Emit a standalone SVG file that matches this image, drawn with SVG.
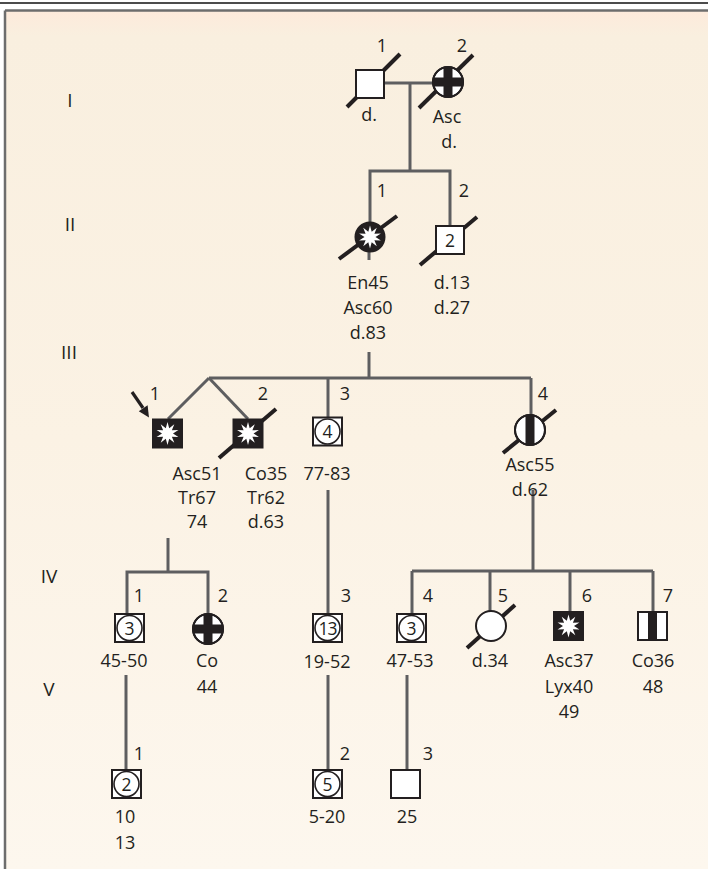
<svg xmlns="http://www.w3.org/2000/svg" xmlns:xlink="http://www.w3.org/1999/xlink" width="708" height="869" viewBox="0 0 708 869">
<defs>
<linearGradient id="bg" x1="0" y1="0" x2="0" y2="1">
<stop offset="0" stop-color="#fdeadb"/>
<stop offset="0.03" stop-color="#f9efdf"/>
<stop offset="0.5" stop-color="#fbf2e4"/>
<stop offset="1" stop-color="#fdf7ee"/>
</linearGradient>
<clipPath id="cc"><circle cx="0" cy="0" r="15"/></clipPath>
<polygon id="star" fill="#fff" points="0,-11.5 1.7,-5.2 6.8,-9.3 4.4,-3.2 10.9,-3.5 5.5,0 10.9,3.5 4.4,3.2 6.8,9.3 1.7,5.2 0,11.5 -1.7,5.2 -6.8,9.3 -4.4,3.2 -10.9,3.5 -5.5,0 -10.9,-3.5 -4.4,-3.2 -6.8,-9.3 -1.7,-5.2"/>
</defs>
<style>
text{font-family:"Open Sans","Liberation Sans",sans-serif;font-size:18px;fill:#231f20;text-anchor:middle}
.gen{font-size:19px}
.con{stroke:#5e5e60;stroke-width:3;fill:none}
.sym{stroke:#231f20;stroke-width:2;fill:#fff}
.blk{fill:#231f20;stroke:#231f20;stroke-width:2}
.in{stroke:#231f20;stroke-width:1.6;fill:#fff}
.dec{stroke:#231f20;stroke-width:4}
.num{font-size:17.5px}
</style>
<rect x="0" y="0" width="708" height="869" fill="#fff"/>
<rect x="5" y="10.5" width="703" height="859" fill="url(#bg)"/>
<line x1="5" y1="10.5" x2="708" y2="10.5" stroke="#6d6d6d" stroke-width="2.5"/>
<line x1="5" y1="10.5" x2="5" y2="869" stroke="#6d6d6d" stroke-width="2.5"/>
<line x1="0" y1="3" x2="708" y2="3" stroke="#111" stroke-width="1.6"/>

<g id="generations">
<text class="gen" x="70" y="107">I</text>
<text class="gen" x="70" y="231">II</text>
<text class="gen" x="69" y="359">III</text>
<text class="gen" x="49" y="583">IV</text>
<text class="gen" x="49" y="696">V</text>
</g>

<g id="connectors" class="con">
<line x1="384" y1="83" x2="433" y2="83"/>
<line x1="410" y1="83" x2="410" y2="171"/>
<polyline points="370,223 370,171 450,171 450,226"/>
<line x1="369" y1="251" x2="369" y2="260"/>
<line x1="369" y1="352" x2="369" y2="378"/>
<line x1="209" y1="378" x2="531" y2="378"/>
<line x1="209" y1="378" x2="168" y2="419"/>
<line x1="209" y1="378" x2="248" y2="419"/>
<line x1="328" y1="378" x2="328" y2="417"/>
<line x1="531" y1="378" x2="531" y2="415"/>
<line x1="168" y1="538" x2="168" y2="572"/>
<polyline points="127,614 127,572 208,572 208,614"/>
<line x1="328" y1="490" x2="328" y2="614"/>
<line x1="533" y1="490" x2="533" y2="571"/>
<line x1="412" y1="571" x2="653" y2="571"/>
<line x1="412" y1="571" x2="412" y2="614"/>
<line x1="490" y1="571" x2="490" y2="611"/>
<line x1="570" y1="571" x2="570" y2="612"/>
<line x1="653" y1="571" x2="653" y2="612"/>
<line x1="126" y1="675" x2="126" y2="770"/>
<line x1="328" y1="675" x2="328" y2="770"/>
<line x1="407" y1="675" x2="407" y2="770"/>
</g>

<g id="I-1">
<line class="dec" x1="347" y1="107" x2="400" y2="54"/>
<rect class="sym" x="356" y="70" width="28" height="28"/>
<text x="382" y="52">1</text>
<text x="369" y="121">d.</text>
</g>
<g id="I-2">
<line class="dec" x1="419" y1="108" x2="473" y2="55"/>
<g transform="translate(448,82)">
<circle class="sym" r="15"/>
<g clip-path="url(#cc)" fill="#231f20"><rect x="-4.5" y="-15" width="9" height="30"/><rect x="-15" y="-4.5" width="30" height="9"/></g>
<circle r="15" fill="none" stroke="#231f20" stroke-width="2"/>
</g>
<text x="462" y="52">2</text>
<text x="447" y="123">Asc</text>
<text x="449" y="148">d.</text>
</g>

<g id="II-1">
<line class="dec" x1="339" y1="259" x2="397" y2="216"/>
<circle class="blk" cx="370" cy="237" r="14.5"/>
<use xlink:href="#star" href="#star" transform="translate(370,237)"/>
<text x="382" y="197">1</text>
<text x="368" y="289">En45</text>
<text x="368" y="314">Asc60</text>
<text x="368" y="339">d.83</text>
</g>
<g id="II-2">
<line class="dec" x1="420" y1="265" x2="477" y2="217"/>
<rect class="sym" x="436" y="226" width="28" height="28"/>
<text x="450" y="247" class="num">2</text>
<text x="464" y="197">2</text>
<text x="452" y="289">d.13</text>
<text x="452" y="314">d.27</text>
</g>

<g id="III-1">
<rect class="blk" x="153" y="419.5" width="29" height="28"/>
<use xlink:href="#star" href="#star" transform="translate(167.5,433.5)"/>
<line x1="132" y1="392" x2="143" y2="408" stroke="#231f20" stroke-width="3.2"/>
<polygon points="149,417.5 138.8,411.2 147.6,405.2" fill="#231f20"/>
<text x="155" y="400">1</text>
<text x="197" y="480">Asc51</text>
<text x="197" y="504">Tr67</text>
<text x="197" y="528">74</text>
</g>
<g id="III-2">
<line class="dec" x1="219" y1="458" x2="276" y2="409"/>
<rect class="blk" x="233.5" y="419.5" width="29" height="28"/>
<use xlink:href="#star" href="#star" transform="translate(248,433.5)"/>
<text x="263" y="400">2</text>
<text x="266" y="480">Co35</text>
<text x="266" y="504">Tr62</text>
<text x="266" y="528">d.63</text>
</g>
<g id="III-3">
<rect class="sym" x="313" y="417.5" width="29" height="28"/>
<circle class="in" cx="327.5" cy="431.5" r="12.5"/>
<text x="327.5" y="438" class="num">4</text>
<text x="345" y="400">3</text>
<text x="327" y="480">77-83</text>
</g>
<g id="III-4">
<line class="dec" x1="503" y1="453" x2="556" y2="410"/>
<g transform="translate(530,430)">
<circle class="sym" r="15"/>
<rect x="-4.5" y="-15" width="9" height="30" fill="#231f20" clip-path="url(#cc)"/>
<circle r="15" fill="none" stroke="#231f20" stroke-width="2"/>
</g>
<text x="543" y="400">4</text>
<text x="530" y="471">Asc55</text>
<text x="530" y="496">d.62</text>
</g>

<g id="IV-1">
<rect class="sym" x="115" y="614" width="29" height="28"/>
<circle class="in" cx="129.5" cy="628" r="12.5"/>
<text x="129.5" y="634.5" class="num">3</text>
<text x="139" y="602">1</text>
<text x="124" y="667">45-50</text>
</g>
<g id="IV-2">
<g transform="translate(208,629)">
<circle class="sym" r="15"/>
<g clip-path="url(#cc)" fill="#231f20"><rect x="-4.5" y="-15" width="9" height="30"/><rect x="-15" y="-4.5" width="30" height="9"/></g>
<circle r="15" fill="none" stroke="#231f20" stroke-width="2"/>
</g>
<text x="223" y="602">2</text>
<text x="207" y="667">Co</text>
<text x="207" y="693">44</text>
</g>
<g id="IV-3">
<rect class="sym" x="313" y="614" width="29" height="28"/>
<circle class="in" cx="327.5" cy="628" r="12.5"/>
<text x="327.5" y="634.5" class="num" style="letter-spacing:-1px">13</text>
<text x="346" y="602">3</text>
<text x="327" y="668">19-52</text>
</g>
<g id="IV-4">
<rect class="sym" x="397" y="614" width="29" height="28"/>
<circle class="in" cx="411.5" cy="628" r="12.5"/>
<text x="411.5" y="634.5" class="num">3</text>
<text x="428" y="602">4</text>
<text x="410" y="667">47-53</text>
</g>
<g id="IV-5">
<line class="dec" x1="467" y1="648" x2="515" y2="605"/>
<circle class="sym" cx="491" cy="626" r="15"/>
<text x="503" y="602">5</text>
<text x="490" y="667">d.34</text>
</g>
<g id="IV-6">
<rect class="blk" x="554" y="612" width="29" height="28"/>
<use xlink:href="#star" href="#star" transform="translate(568.5,626)"/>
<text x="587" y="602">6</text>
<text x="569" y="667">Asc37</text>
<text x="569" y="693">Lyx40</text>
<text x="569" y="718">49</text>
</g>
<g id="IV-7">
<rect class="sym" x="638" y="612" width="29" height="28"/>
<rect x="648" y="612" width="9" height="28" fill="#231f20"/>
<text x="668" y="602">7</text>
<text x="653" y="667">Co36</text>
<text x="653" y="693">48</text>
</g>

<g id="V-1">
<rect class="sym" x="112" y="770" width="29" height="28"/>
<circle class="in" cx="126.5" cy="784" r="12.5"/>
<text x="126.5" y="790.5" class="num">2</text>
<text x="139" y="760">1</text>
<text x="125" y="823">10</text>
<text x="125" y="849">13</text>
</g>
<g id="V-2">
<rect class="sym" x="313" y="770" width="29" height="28"/>
<circle class="in" cx="327.5" cy="784" r="12.5"/>
<text x="327.5" y="790.5" class="num">5</text>
<text x="345" y="760">2</text>
<text x="327" y="823">5-20</text>
</g>
<g id="V-3">
<rect class="sym" x="391" y="770" width="29" height="28"/>
<text x="428" y="760">3</text>
<text x="407" y="823">25</text>
</g>
</svg>
